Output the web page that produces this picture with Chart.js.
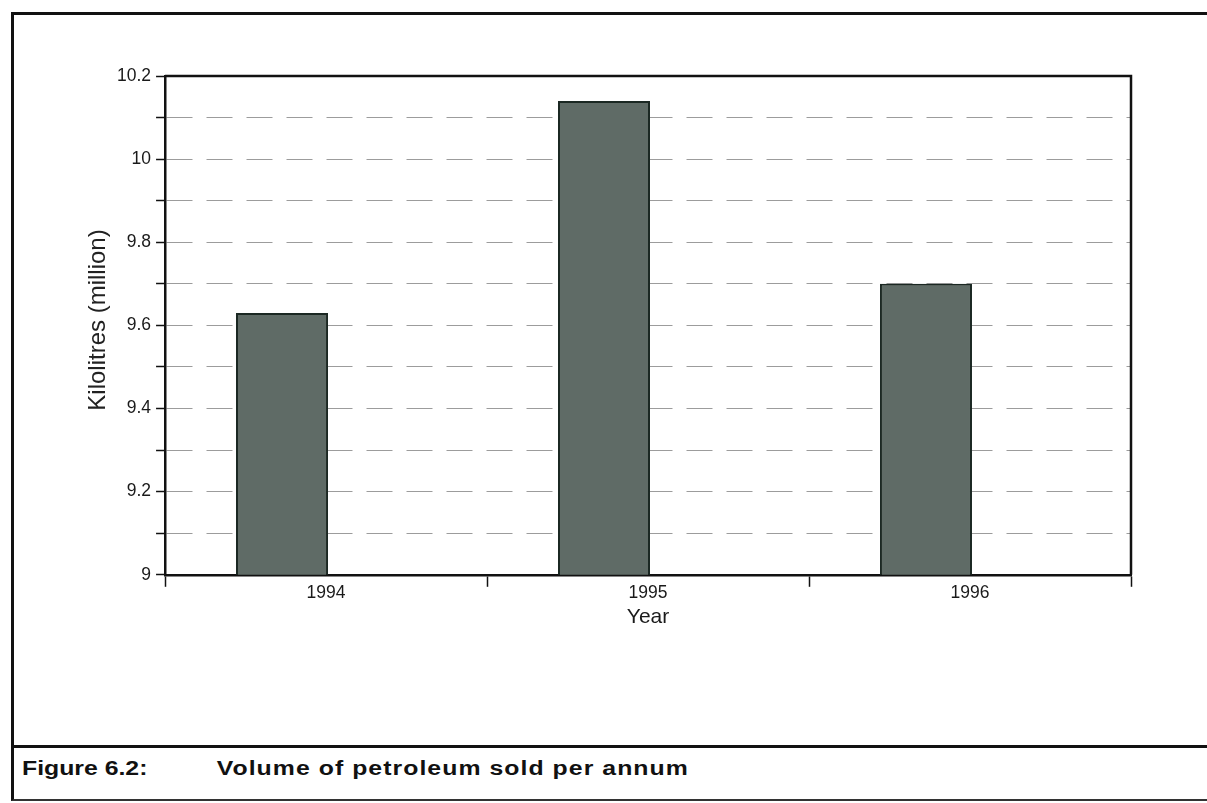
<!DOCTYPE html>
<html>
<head>
<meta charset="utf-8">
<script src="https://cdn.jsdelivr.net/npm/chart.js@4"></script>
<style>
  html, body { margin: 0; padding: 0; background: #fff; }
  #page { position: relative; width: 1207px; height: 803px; overflow: hidden; }
  #frame { position: absolute; left: 11px; top: 12px; width: 1220px; height: 784px;
           border-left: 3px solid #111; border-top: 3px solid #111; border-bottom: 2px solid #333; }
  #sep { position: absolute; left: 11px; top: 745px; width: 1200px; height: 0; border-top: 3px solid #111; }
  #caption { position: absolute; left: 22px; top: 757px; font-family: "Liberation Sans", Arial, sans-serif;
             font-weight: bold; font-size: 20px; color: #111; white-space: nowrap;
             transform: scaleX(1.24); transform-origin: left top; }
  #caption span { display: inline-block; width: 157px; }
  #caption em { font-style: normal; letter-spacing: 0.85px; }
  #wrap { position: absolute; left: 0; top: 0; width: 1207px; height: 745px; }
</style>
</head>
<body>
<div id="page">
  <div id="frame"></div>
  <div id="sep"></div>
  <div id="caption"><span>Figure 6.2:</span><em>Volume of petroleum sold per annum</em></div>
  <div id="wrap"><canvas id="volChart"></canvas></div>
</div>
<script>
const years = ["1994", "1995", "1996"];
const volumes = [9.63, 10.14, 9.70]; // kilolitres, million
const blankSeries = [null, null, null]; // empty 2nd series in the original, pushes bars left
const yMin = 9, yMax = 10.2, yStep = 0.1;
const yTitle = "Kilolitres (million)";

// box round the plot area (top + right edges) and the y title
const plotBox = {
  id: "plotBox",
  afterDraw(chart) {
    const { ctx, chartArea: a } = chart;
    ctx.save();
    ctx.strokeStyle = "#111";
    ctx.lineWidth = 2.5;
    ctx.beginPath();
    ctx.moveTo(a.left, a.top);
    ctx.lineTo(a.right, a.top);
    ctx.lineTo(a.right, a.bottom);
    ctx.stroke();

    ctx.translate(a.left - 67, a.top + 244);
    ctx.rotate(-Math.PI / 2);
    ctx.font = "24px 'Liberation Sans'";
    ctx.fillStyle = "#222";
    ctx.textAlign = "center";
    ctx.textBaseline = "middle";
    ctx.fillText(yTitle, 0, 0);
    ctx.restore();
  }
};

function drawChart() {
  const ctx = document.getElementById("volChart").getContext("2d");
  window.volChart = new Chart(ctx, {
    type: "bar",
    data: {
      labels: years,
      datasets: [
        {
          label: "Volume",
          data: volumes,
          backgroundColor: "#5f6b66",
          borderColor: "#1b2823",
          borderWidth: 2,
          borderSkipped: false,
          categoryPercentage: 0.547,
          barPercentage: 1.045
        },
        {
          label: "",
          data: blankSeries,
          categoryPercentage: 0.547,
          barPercentage: 1.045
        }
      ]
    },
    options: {
      responsive: true,
      maintainAspectRatio: false,
      animation: false,
      layout: { padding: { left: 112, right: 76, top: 76, bottom: 111 } },
      plugins: { legend: { display: false }, tooltip: { enabled: false } },
      scales: {
        x: {
          offset: true,
          grid: { offset: true, drawOnChartArea: false, tickLength: 12, tickColor: "#111", tickWidth: 1.5 },
          border: { color: "#111", width: 2.5 },
          ticks: { color: "#1a1a1a", font: { family: "Liberation Sans", size: 17.5 }, padding: -4 },
          title: { display: true, text: "Year", color: "#1a1a1a", font: { family: "Liberation Sans", size: 21 }, padding: { top: 5, bottom: 4 } }
        },
        y: {
          min: yMin,
          max: yMax,
          ticks: {
            stepSize: yStep,
            color: "#1a1a1a",
            font: { family: "Liberation Sans", size: 17.5 },
            padding: 5,
            callback: v => {
              const k = Math.round(v * 10);
              return k % 2 === 0 ? String(k / 10) : "";
            }
          },
          grid: {
            color: c => {
              const v = c.tick ? c.tick.value : 0;
              return (Math.abs(v - yMin) < 1e-6 || Math.abs(v - yMax) < 1e-6) ? "rgba(0,0,0,0)" : "#9c9c9c";
            },
            lineWidth: 1,
            tickLength: 9,
            tickColor: "#111",
            tickWidth: 1.5
          },
          border: { color: "#111", width: 2.5, dash: [26, 14] }
        }
      }
    },
    plugins: [plotBox]
  });
}

document.addEventListener("DOMContentLoaded", drawChart);
</script>
</body>
</html>
